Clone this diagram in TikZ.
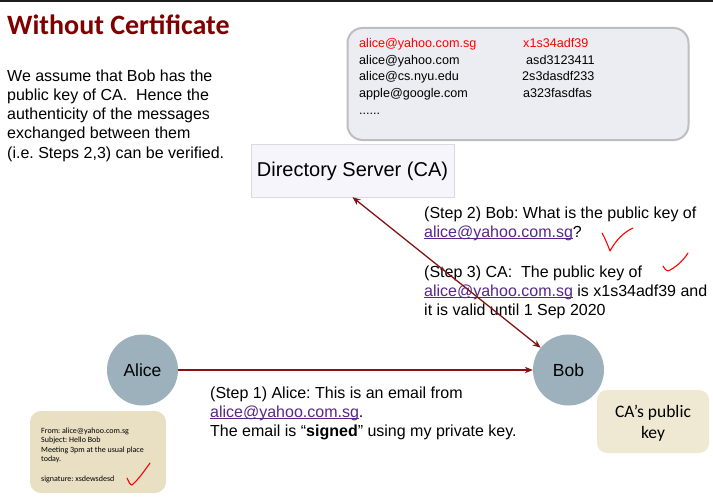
\documentclass[tikz,border=0pt]{standalone}
\usepackage{fontspec}
\setmainfont{Liberation Sans}
\newfontfamily\calfont{Carlito}
\usetikzlibrary{arrows.meta}
\definecolor{titlec}{RGB}{128,0,0}
\definecolor{linkc}{RGB}{88,38,140}
\definecolor{arrc}{RGB}{132,20,20}
\definecolor{nodec}{RGB}{157,177,188}
\definecolor{dbfill}{RGB}{235,237,242}
\definecolor{dbline}{RGB}{190,190,194}
\definecolor{dsfill}{RGB}{245,245,251}
\definecolor{dsline}{RGB}{218,218,224}
\definecolor{mailc}{RGB}{233,224,195}
\definecolor{cakey}{RGB}{239,232,210}
\definecolor{topbar}{RGB}{28,28,28}
\newsavebox\lnkbox
\newcommand\lnk[1]{\sbox\lnkbox{\color{linkc}#1}{\color{linkc}\rlap{\usebox\lnkbox}\rule[-2.2pt]{\wd\lnkbox}{0.9pt}}}
\frenchspacing
\tikzset{
  txt/.style={anchor=base west, inner sep=0pt, font=\fontsize{16}{19}\selectfont},
  dbtxt/.style={anchor=base west, inner sep=0pt, font=\fontsize{12.6}{15}\selectfont},
  mailtxt/.style={anchor=base west, inner sep=0pt, font=\calfont\fontsize{8}{9.5}\selectfont},
  person/.style={circle, fill=nodec, minimum size=71pt, inner sep=0pt, font=\fontsize{17.5}{20}\selectfont},
  arr/.style={draw=arrc, line width=1.3pt, -{Stealth[length=8pt,width=6.5pt,inset=2.5pt]}},
  tick/.style={draw=red, line width=1.1pt, line cap=round, line join=round},
}
\begin{document}
\begin{tikzpicture}[x=1pt,y=-1pt]
\useasboundingbox (0,0) rectangle (713,503);
\fill[white] (0,0) rectangle (713,503);
\fill[topbar] (0,0) rectangle (713,2.5);

% title
\node[anchor=base west, inner sep=0pt, text=titlec, font=\calfont\bfseries\fontsize{28}{33}\selectfont] (title) at (7,35) {Without Certificate};

% intro paragraph
\node[txt] (p1) at (7,82) {We assume that Bob has the};
\node[txt] (p2) at (7,101) {public key of CA.~ Hence the};
\node[txt] (p3) at (7,120) {authenticity of the messages};
\node[txt] (p4) at (7,139) {exchanged between them};
\node[txt] (p5) at (7,158) {(i.e. Steps 2,3) can be verified.};

% directory database box
\node[draw=dbline, line width=2pt, fill=dbfill, rounded corners=15pt, minimum width=341pt, minimum height=112pt, inner sep=0pt] (db) at (518,84) {};
\node[dbtxt, text=red] (d1a) at (359,48) {alice@yahoo.com.sg};
\node[dbtxt, text=red] (d1b) at (523,48) {x1s34adf39};
\node[dbtxt] (d2a) at (359,64.5) {alice@yahoo.com};
\node[dbtxt] (d2b) at (526,64.5) {asd3123411};
\node[dbtxt] (d3a) at (359,81) {alice@cs.nyu.edu};
\node[dbtxt] (d3b) at (522,81) {2s3dasdf233};
\node[dbtxt] (d4a) at (359,97.5) {apple@google.com};
\node[dbtxt] (d4b) at (523,97.5) {a323fasdfas};
\node[dbtxt] (d5a) at (359,114) {......};

% directory server
\node[draw=dsline, fill=dsfill, minimum width=203pt, minimum height=53pt, inner sep=0pt, font=\fontsize{20}{24}\selectfont] (ds) at (352.5,170.5) {};
\node[anchor=base, inner sep=0pt, font=\fontsize{20}{24}\selectfont] (dst) at (352.5,176.5) {Directory Server (CA)};

% people
\node[person] (alice) at (142.5,370) {Alice};
\node[person] (bob) at (568.5,370) {Bob};

% step 2 / step 3 text
\node[txt] (s2a) at (424,218) {(Step 2) Bob: What is the public key of};
\node[txt] (s2b) at (424,237) {\lnk{alice@yahoo.com.sg}?};
\node[txt] (s3a) at (424,277) {(Step 3) CA:~ The public key of};
\node[txt] (s3b) at (424,296) {\lnk{alice@yahoo.com.sg} is x1s34adf39 and};
\node[txt] (s3c) at (424,315) {it is valid until 1 Sep 2020};

% step 1 text
\node[txt] (s1a) at (210,398) {(Step 1) Alice: This is an email from};
\node[txt] (s1b) at (210,417) {\lnk{alice@yahoo.com.sg}.};
\node[txt] (s1c) at (210,436) {The email is “\textbf{signed}” using my private key.};

% connectors
\draw[arr] (alice) -- (bob);
\draw[arr, {Stealth[length=8pt,width=6.5pt,inset=2.5pt]}-{Stealth[length=8pt,width=6.5pt,inset=2.5pt]}] (ds.south) -- (bob);

% email box
\node[fill=mailc, rounded corners=11pt, minimum width=136pt, minimum height=82pt, inner sep=0pt] (mail) at (98,452) {};
\node[mailtxt] (m1) at (41,433) {From: alice@yahoo.com.sg};
\node[mailtxt] (m2) at (41,442.5) {Subject: Hello Bob};
\node[mailtxt] (m3) at (41,452) {Meeting 3pm at the usual place};
\node[mailtxt] (m4) at (41,461.5) {today.};
\node[mailtxt] (m5) at (41,481) {signature: xsdewsdesd};

% CA public key box
\node[fill=cakey, rounded corners=10pt, minimum width=112pt, minimum height=63pt, inner sep=0pt] (cak) at (653,421.5) {};
\node[anchor=base, inner sep=0pt, font=\calfont\fontsize{17.5}{21}\selectfont] (cak1) at (653,417) {CA’s public};
\node[anchor=base, inner sep=0pt, font=\calfont\fontsize{17.5}{21}\selectfont] (cak2) at (653,438) {key};

% check marks
\draw[tick] (602,233) .. controls (606,240) and (608,246) .. (610,251) .. controls (616,240) and (624,232) .. (633,228);
\draw[tick] (663,266) .. controls (665,269) and (666,271) .. (668,271) .. controls (675,268) and (683,261) .. (688,253);
\draw[tick] (127,478) .. controls (129,482) and (130,485) .. (132,485) .. controls (138,480) and (145,470) .. (150,463);
\end{tikzpicture}
\end{document}
